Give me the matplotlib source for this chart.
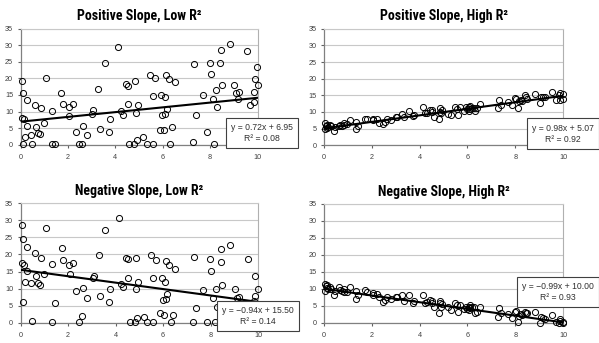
import matplotlib
matplotlib.use("Agg")
import matplotlib.pyplot as plt
from matplotlib import font_manager
import numpy as np

# pick the narrowest sans family that is installed for titles
have = {f.name for f in font_manager.fontManager.ttflist}
narrow = [n for n in ["Liberation Sans Narrow", "DejaVu Sans Condensed",
                      "Roboto Condensed", "Liberation Sans"] if n in have]
TITLE_FONT = narrow[:1] + ["DejaVu Sans"]
BODY_FONT = ["Liberation Sans", "DejaVu Sans"]
plt.rcParams["font.family"] = BODY_FONT
is_narrow = TITLE_FONT[0] in ("Liberation Sans Narrow", "Roboto Condensed")

# shared x values of the four samples
x = [0.04, 0.06, 0.08, 0.11, 0.14, 0.18, 0.26, 0.28, 0.43, 0.47,
     0.61, 0.65, 0.75, 0.82, 0.85, 0.97, 1.07, 1.32, 1.33, 1.43,
     1.72, 1.79, 2.03, 2.06, 2.20, 2.32, 2.46, 2.57, 2.64, 2.81,
     3.03, 3.07, 3.28, 3.35, 3.56, 3.71, 3.78, 4.13, 4.23, 4.30,
     4.45, 4.52, 4.53, 4.59, 4.80, 4.84, 4.87, 4.91, 4.94, 5.18,
     5.33, 5.48, 5.58, 5.59, 5.69, 5.87, 5.94, 5.98, 6.05, 6.08,
     6.11, 6.12, 6.18, 6.26, 6.32, 6.41, 6.51, 7.26, 7.32, 7.40,
     7.68, 7.87, 7.99, 8.02, 8.11, 8.17, 8.25, 8.28, 8.42, 8.45,
     8.49, 8.82, 9.02, 9.10, 9.18, 9.23, 9.56, 9.70, 9.84, 9.87,
     9.88, 9.99, 10.00]

pos_low = [19.2, 8.1, 0.2, 15.5, 7.7, 2.4, 5.7, 13.5, 2.9, 0.2,
           12.0, 5.3, 3.4, 3.1, 11.0, 6.4, 20.2, 10.3, 0.2, 0.2,
           15.6, 12.4, 11.5, 8.7, 12.3, 3.9, 0.2, 0.2, 5.7, 2.9,
           9.4, 10.4, 16.9, 4.7, 24.8, 3.7, 7.9, 29.6, 10.1, 9.1,
           18.2, 17.8, 12.4, 0.2, 0.2, 19.1, 9.7, 1.3, 12.0, 2.3,
           0.2, 21.0, 14.6, 0.2, 20.0, 4.5, 15.0, 8.9, 4.3, 14.3,
           9.3, 21.0, 10.8, 19.8, 0.2, 5.2, 18.8, 0.9, 24.3, 9.1,
           15.0, 3.8, 24.8, 21.3, 13.8, 0.2, 16.5, 11.5, 24.8, 28.6,
           18.1, 30.4, 18.1, 15.5, 13.9, 15.9, 28.4, 12.1, 16.0, 12.8,
           19.7, 23.5, 18.0]

pos_high = [6.6, 4.8, 5.8, 5.2, 6.1, 5.5, 6.1, 5.9, 4.4, 5.6,
            5.8, 6.2, 5.9, 6.6, 6.2, 6.5, 7.6, 4.8, 7.0, 5.8,
            8.0, 7.8, 7.6, 7.8, 8.0, 6.8, 6.4, 7.0, 7.8, 7.6,
            8.4, 8.6, 9.4, 8.4, 10.4, 8.8, 9.1, 11.4, 9.8, 9.6,
            10.6, 10.6, 10.1, 8.6, 7.8, 11.1, 10.1, 9.6, 10.6, 9.3,
            9.1, 11.4, 11.0, 9.1, 11.6, 10.4, 11.4, 10.8, 10.4, 11.6,
            11.0, 11.8, 11.1, 11.1, 10.3, 11.1, 12.3, 11.2, 13.6, 12.1,
            13.1, 12.1, 14.1, 13.8, 11.1, 13.2, 13.6, 13.3, 15.1, 14.6,
            13.9, 15.4, 12.6, 14.6, 14.4, 14.6, 16.1, 13.6, 15.1, 13.6,
            15.8, 15.5, 14.0]

neg_low = [17.4, 28.5, 6.2, 24.6, 16.9, 11.9, 15.1, 22.3, 11.7, 0.4,
           20.3, 13.8, 11.6, 11.1, 18.9, 14.2, 27.8, 17.2, 0.2, 5.8,
           21.9, 18.4, 16.8, 14.3, 17.4, 9.2, 0.2, 2.1, 10.2, 7.2,
           13.0, 13.8, 19.8, 7.8, 27.1, 6.1, 10.0, 30.8, 11.3, 10.5,
           19.1, 18.6, 13.2, 0.2, 0.2, 18.9, 9.8, 1.4, 11.9, 1.8,
           0.2, 19.8, 13.2, 0.2, 18.3, 2.7, 13.0, 6.7, 2.2, 11.9,
           6.9, 18.2, 8.3, 17.0, 0.2, 2.2, 15.7, 0.2, 19.4, 4.3,
           9.6, 0.2, 18.7, 15.1, 7.2, 0.2, 10.0, 4.7, 17.7, 21.5,
           11.1, 22.7, 10.0, 7.3, 7.6, 5.0, 18.8, 2.0, 6.5, 13.6,
           7.9, 10.0, 3.0]

neg_high = [11.4, 9.2, 10.8, 10.2, 11.0, 9.8, 10.6, 10.0, 8.2, 9.4,
            10.5, 9.6, 9.3, 9.0, 9.9, 9.1, 10.5, 6.9, 9.4, 8.2,
            9.5, 9.0, 8.2, 8.7, 8.4, 7.7, 6.2, 6.7, 7.5, 6.9,
            7.5, 7.7, 8.2, 6.5, 8.3, 5.9, 6.4, 8.2, 5.9, 6.1,
            6.7, 6.4, 5.7, 4.7, 3.0, 6.4, 5.7, 4.7, 5.5, 4.5,
            3.6, 5.7, 5.3, 3.3, 5.2, 3.9, 4.7, 4.1, 3.6, 4.7,
            4.3, 5.2, 4.5, 4.7, 2.8, 3.3, 4.5, 1.8, 4.2, 2.8,
            2.6, 1.5, 3.3, 3.5, 0.1, 2.0, 2.6, 2.2, 3.3, 2.8,
            3.0, 3.3, 0.0, 1.8, 1.3, 1.0, 2.2, 0.2, 0.0, 0.5,
            1.0, 0.0, 0.3]

titles = ["Positive Slope, Low R²", "Positive Slope, High R²",
          "Negative Slope, Low R²", "Negative Slope, High R²"]
series = [pos_low, pos_high, neg_low, neg_high]
slopes = [0.72, 0.98, -0.94, -0.99]
intercepts = [6.95, 5.07, 15.50, 10.00]
r2 = [0.08, 0.92, 0.14, 0.93]

W, H = 599, 343
fig = plt.figure(figsize=(W / 100, H / 100), dpi=100)

title_size = 10 if is_narrow else 8.6

# axes boxes in pixels: left, top, right, bottom
boxes = [(20.7, 28.7, 257.5, 144.7), (324, 28.7, 563, 145.3),
         (20.7, 203.3, 258, 322.7), (324, 204, 563, 322.7)]
# label box centres in axes fraction
label_pos = [(1.02, 0.10), (1.0, 0.10), (1.0, 0.056), (0.98, 0.26)]

for i in range(4):
    l, t, r, b = boxes[i]
    ax = fig.add_axes([l / W, 1 - b / H, (r - l) / W, (b - t) / H])
    ax.set_xlim(0, 10)
    ax.set_ylim(0, 35)
    ax.set_xticks(range(0, 11, 2))
    ax.set_yticks(range(0, 36, 5))
    ax.grid(axis="y", color="#c8c8c8", lw=0.8)
    ax.set_axisbelow(True)
    for s in ["left", "bottom"]:
        ax.spines[s].set_color("#808080")
        ax.spines[s].set_linewidth(0.9)
    ax.spines["right"].set_color("#b0b0b0")
    ax.spines["right"].set_linewidth(0.8)
    ax.spines["top"].set_color("#c8c8c8")
    ax.spines["top"].set_linewidth(0.8)
    ax.tick_params(length=2.5, width=0.8, color="#606060", labelsize=5.2,
                   labelcolor="#404040", pad=3)
    ax.tick_params(axis="x", pad=4 if i < 2 else 4.5)

    ax.plot(x, series[i], "o", ms=4.4, mfc="none", mec="black", mew=0.7,
            clip_on=False, zorder=3)
    xs = np.array([min(x), max(x)])
    ax.plot(xs, slopes[i] * xs + intercepts[i], color="black", lw=1.5, zorder=4)

    ax.set_title(titles[i], fontsize=title_size, fontweight="bold", pad=6,
                 family=TITLE_FONT)

    sign = "−" if slopes[i] < 0 else ""
    eq = f"y = {sign}{abs(slopes[i]):.2f}x + {intercepts[i]:.2f}\nR² = {r2[i]:.2f}"
    lx, ly = label_pos[i]
    ax.text(lx, ly, eq, transform=ax.transAxes, ha="center", va="center",
            fontsize=6.2, linespacing=1.3, color="#303030", zorder=6,
            clip_on=False,
            bbox=dict(boxstyle="square,pad=0.6", fc="white", ec="#404040", lw=0.8))

fig.savefig("out.png", dpi=100)
